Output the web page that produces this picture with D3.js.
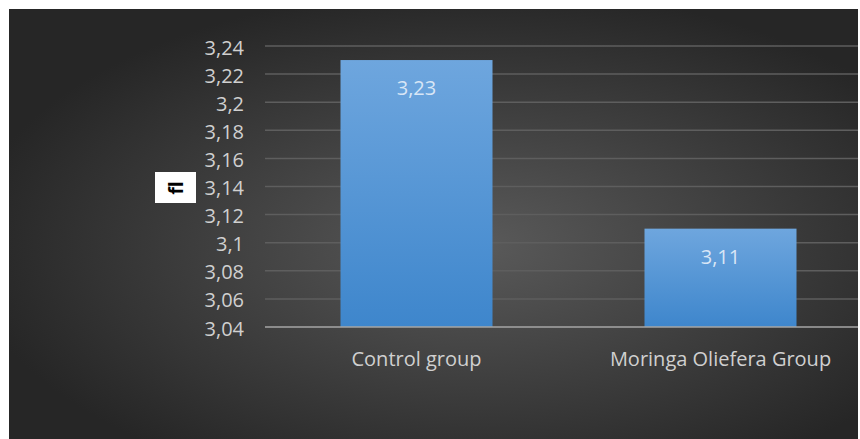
<!DOCTYPE html>
<html>
<head>
<meta charset="utf-8">
<script src="https://cdn.jsdelivr.net/npm/d3@7"></script>
<style>
  body { margin: 0; background: #fff; }
  svg { display: block; }
</style>
</head>
<body>
<div id="chart"></div>
<script>
// Data
var categories = ["Control group", "Moringa Oliefera Group"];
var values = [3.23, 3.11];
var labels = ["3,23", "3,11"];
var yTicks = [3.04, 3.06, 3.08, 3.1, 3.12, 3.14, 3.16, 3.18, 3.2, 3.22, 3.24];

var svgWidth = 860;
var svgHeight = 439;

var svg = d3.select("#chart")
  .append("svg")
  .attr("width", svgWidth)
  .attr("height", svgHeight);

var defs = svg.append("defs");

var bg = defs.append("radialGradient")
  .attr("id", "bg")
  .attr("cx", "55%").attr("cy", "55%").attr("r", "60%");
bg.append("stop").attr("offset", "0%").attr("stop-color", "#5a5a5a");
bg.append("stop").attr("offset", "100%").attr("stop-color", "#262626");

var barGrad = defs.append("linearGradient")
  .attr("id", "barGrad")
  .attr("x1", 0).attr("y1", 0).attr("x2", 0).attr("y2", 1);
barGrad.append("stop").attr("offset", "0%").attr("stop-color", "#6ea6de");
barGrad.append("stop").attr("offset", "100%").attr("stop-color", "#3e86cc");

var font = "'Open Sans', sans-serif";

// Chart area background
svg.append("rect")
  .attr("x", 9).attr("y", 9)
  .attr("width", 849).attr("height", 430)
  .attr("fill", "url(#bg)");

// Scales
var x = d3.scaleBand()
  .domain(categories)
  .range([264.5, 872.5])
  .paddingInner(0.5)
  .paddingOuter(0.25);

var y = d3.scaleLinear()
  .domain([3.04, 3.24])
  .range([327, 46]);

var fmt = d => String(d).replace(".", ",");

// Gridlines
svg.append("g")
  .selectAll("line")
  .data(yTicks.slice(1))
  .enter()
  .append("line")
  .attr("x1", 265).attr("x2", 858)
  .attr("y1", d => y(d)).attr("y2", d => y(d))
  .attr("stroke", "#5e5e5e")
  .attr("stroke-width", 1.5);

// Y axis
var leftAxis = d3.axisLeft(y)
  .tickValues(yTicks)
  .tickFormat(fmt)
  .tickSize(0)
  .tickPadding(0);

var yAxis = svg.append("g")
  .attr("transform", "translate(244,0)")
  .call(leftAxis);
yAxis.select(".domain").remove();
yAxis.selectAll("text")
  .attr("dy", "0.4em")
  .attr("fill", "#d0d0d0")
  .style("font-family", font)
  .style("font-size", "20px");

// Bars
svg.append("g")
  .selectAll("rect")
  .data(values)
  .enter()
  .append("rect")
  .attr("x", (d, i) => x(categories[i]))
  .attr("y", d => y(d))
  .attr("width", x.bandwidth())
  .attr("height", d => y(3.04) - y(d))
  .attr("fill", "url(#barGrad)");

// Value labels
svg.append("g")
  .selectAll("text")
  .data(values)
  .enter()
  .append("text")
  .attr("x", (d, i) => x(categories[i]) + x.bandwidth() / 2)
  .attr("y", d => y(d) + 35)
  .attr("text-anchor", "middle")
  .attr("fill", "#d8e6f6")
  .style("font-family", font)
  .style("font-size", "20px")
  .text((d, i) => labels[i]);

// X axis baseline
svg.append("line")
  .attr("x1", 265).attr("x2", 858)
  .attr("y1", y(3.04)).attr("y2", y(3.04))
  .attr("stroke", "#a6a6a6")
  .attr("stroke-width", 1.5);

// X axis labels
var bottomAxis = d3.axisBottom(x).tickSize(0).tickPadding(0);
var xAxis = svg.append("g")
  .attr("transform", "translate(0,352)")
  .call(bottomAxis);
xAxis.select(".domain").remove();
xAxis.selectAll("text")
  .attr("fill", "#d0d0d0")
  .style("font-family", font)
  .style("font-size", "20px");

// Y axis title box
svg.append("rect")
  .attr("x", 155).attr("y", 172)
  .attr("width", 41).attr("height", 31)
  .attr("fill", "#ffffff");

svg.append("text")
  .attr("transform", "translate(183,188) rotate(-90)")
  .attr("text-anchor", "middle")
  .attr("fill", "#000")
  .style("font-family", font)
  .style("font-weight", "bold")
  .style("font-size", "19px")
  .text("fl");
</script>
</body>
</html>
